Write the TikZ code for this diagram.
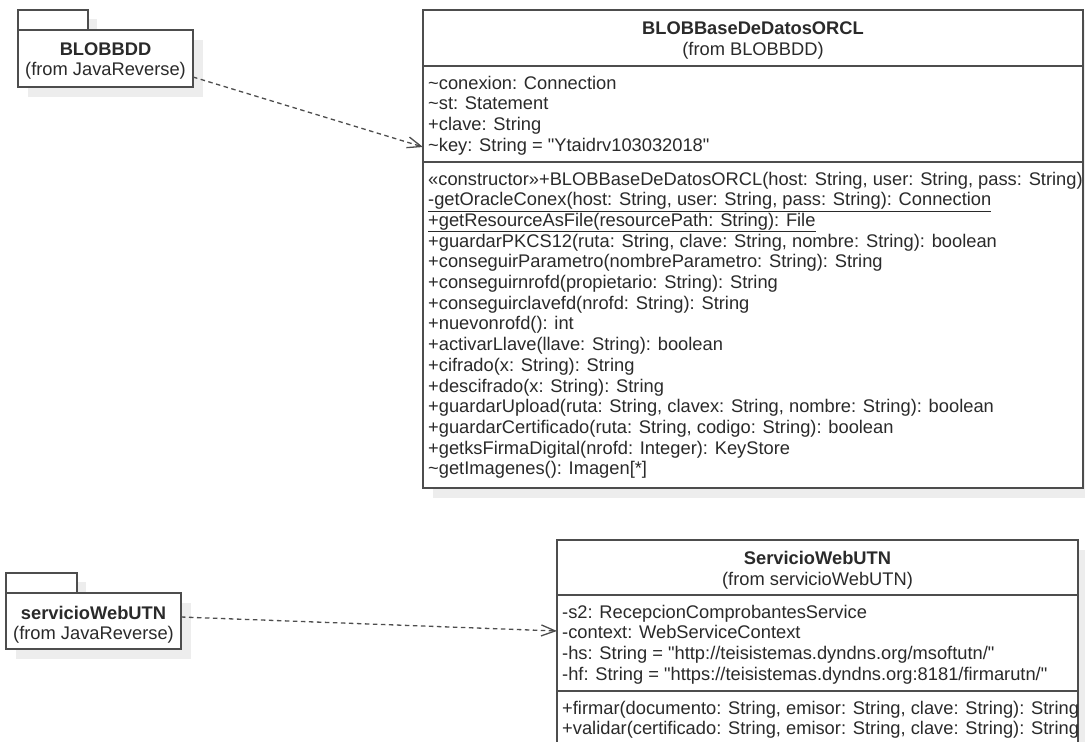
\documentclass[tikz,border=0pt]{standalone}
\usepackage{fontspec}
\setmainfont{Liberation Sans}[Ligatures=TeXOff]
\usetikzlibrary{arrows.meta}
\definecolor{bordc}{HTML}{4D4D4D}
\definecolor{txtc}{HTML}{2A2A2A}
\definecolor{shadc}{HTML}{EDEDED}
\begin{document}
\begin{tikzpicture}[x=1pt,y=-1pt,
  font=\fontsize{18.3}{20.7}\selectfont,
  box/.style={draw=bordc, line width=1.7pt, fill=white, inner sep=0pt, outer sep=0pt, anchor=north west},
  sepline/.style={draw=bordc, line width=1.7pt},
  shad/.style={fill=shadc},
  txt/.style={anchor=base west, inner sep=0pt, text=txtc},
  ctxt/.style={anchor=base, inner sep=0pt, text=txtc},
  ttl/.style={anchor=base, inner sep=0pt, text=txtc, font=\fontsize{18.3}{20.7}\selectfont\bfseries},
  dep/.style={draw=bordc, line width=1.3pt, dash pattern=on 4.5pt off 3.5pt, -{Straight Barb[length=14pt,width=11pt,line width=1.3pt]}}
]
\useasboundingbox (0,0) rectangle (1085,742);
\clip (0,0) rectangle (1085,742);
% shadows
\fill[shad] (97,19) rectangle (28,30);
\fill[shad] (28,40) rectangle (203,97);
\fill[shad] (86,582) rectangle (16,593);
\fill[shad] (16,603) rectangle (191,659);
\fill[shad] (433,20) rectangle (1093,498);
\fill[shad] (567,550) rectangle (1088,800);
% package BLOBBDD
\node[box, minimum width=70pt, minimum height=20pt] (pkgAtab) at (18,10) {};
\node[box, minimum width=175pt, minimum height=57pt] (pkgA) at (18,30) {};
\node[ttl] (pkgAname) at (105.5,55) {BLOBBDD};
\node[ctxt] (pkgAfrom) at (105.5,75.5) {(from JavaReverse)};
% package servicioWebUTN
\node[box, minimum width=71pt, minimum height=20pt] (pkgBtab) at (6,573) {};
\node[box, minimum width=175pt, minimum height=56pt] (pkgB) at (6,593) {};
\node[ttl] (pkgBname) at (93.5,619) {servicioWebUTN};
\node[ctxt] (pkgBfrom) at (93.5,639.5) {(from JavaReverse)};
% class BLOBBaseDeDatosORCL
\node[box, minimum width=660pt, minimum height=478pt] (blob) at (423,10) {};
\draw[sepline] (423,66) -- (1083,66);
\draw[sepline] (423,162) -- (1083,162);
\node[ttl] (blobname) at (753,34.5) {BLOBBaseDeDatosORCL};
\node[ctxt] (blobfrom) at (753,55.5) {(from BLOBBDD)};
\foreach \t [count=\i] in {
  {\textasciitilde conexion: Connection},
  {\textasciitilde st: Statement},
  {+clave: String},
  {\textasciitilde key: String = "Ytaidrv103032018"}}
  \node[txt] (blobattr\i) at (428,{89+(\i-1)*20.7}) {\t};
\foreach \t [count=\i] in {
  {«constructor»+BLOBBaseDeDatosORCL(host: String, user: String, pass: String)},
  {\underline{-getOracleConex(host: String, user: String, pass: String): Connection}},
  {\underline{+getResourceAsFile(resourcePath: String): File}},
  {+guardarPKCS12(ruta: String, clave: String, nombre: String): boolean},
  {+conseguirParametro(nombreParametro: String): String},
  {+conseguirnrofd(propietario: String): String},
  {+conseguirclavefd(nrofd: String): String},
  {+nuevonrofd(): int},
  {+activarLlave(llave: String): boolean},
  {+cifrado(x: String): String},
  {+descifrado(x: String): String},
  {+guardarUpload(ruta: String, clavex: String, nombre: String): boolean},
  {+guardarCertificado(ruta: String, codigo: String): boolean},
  {+getksFirmaDigital(nrofd: Integer): KeyStore},
  {\textasciitilde getImagenes(): Imagen[*]}}
  \node[txt] (blobop\i) at (428,{185+(\i-1)*20.7}) {\t};
% class ServicioWebUTN
\node[box, minimum width=521pt, minimum height=260pt] (svc) at (557,540) {};
\draw[sepline] (557,595) -- (1078,595);
\draw[sepline] (557,691) -- (1078,691);
\node[ttl] (svcname) at (817.5,564.5) {ServicioWebUTN};
\node[ctxt] (svcfrom) at (817.5,585) {(from servicioWebUTN)};
\foreach \t [count=\i] in {
  {-s2: RecepcionComprobantesService},
  {-context: WebServiceContext},
  {-hs: String = "http://teisistemas.dyndns.org/msoftutn/"},
  {-hf: String = "https://teisistemas.dyndns.org:8181/firmarutn/"}}
  \node[txt] (svcattr\i) at (562,{618+(\i-1)*20.7}) {\t};
\foreach \t [count=\i] in {
  {+firmar(documento: String, emisor: String, clave: String): String},
  {+validar(certificado: String, emisor: String, clave: String): String}}
  \node[txt] (svcop\i) at (562,{714+(\i-1)*20.7}) {\t};
% dependencies
\draw[dep] ([yshift=-47pt]pkgA.north east) -- ([yshift=-137pt]blob.north west);
\draw[dep] ([yshift=-24pt]pkgB.north east) -- ([yshift=-91pt]svc.north west);
\end{tikzpicture}
\end{document}
